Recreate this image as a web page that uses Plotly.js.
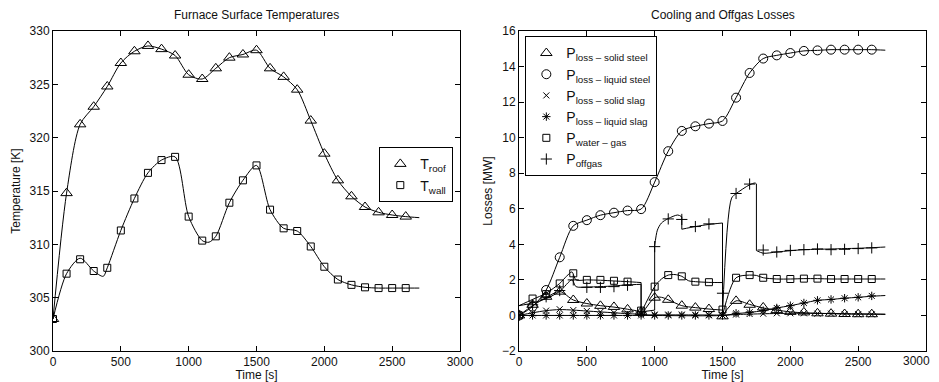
<!DOCTYPE html>
<html>
<head>
<meta charset="utf-8">
<script src="https://cdn.plot.ly/plotly-3.0.1.min.js"></script>
<style>html,body{margin:0;padding:0;background:#fff;overflow:hidden;}#chart{width:939px;height:382px;}</style>
</head>
<body>
<div id="chart"></div>
<script>
// ---- sampled marker times (s) ----
var tMark = [0,100,200,300,400,500,600,700,800,900,1000,1100,1200,1300,1400,1500,1600,1700,1800,1900,2000,2100,2200,2300,2400,2500,2600];

// ---- left panel: furnace surface temperatures (K) ----
var roofMark = [303.0,314.8,321.25,322.9,324.8,327.0,328.1,328.6,328.3,327.7,325.9,325.5,326.5,327.5,327.8,328.2,326.5,325.7,324.5,321.6,318.5,316.0,314.5,313.5,313.0,312.75,312.6];
var wallMark = [303.0,307.25,308.6,307.5,307.8,311.3,314.3,316.7,317.9,318.2,312.6,310.35,310.75,313.9,316.0,317.4,313.25,311.5,311.25,309.8,307.9,306.7,306.2,305.97,305.9,305.9,305.9];

var roofLineT = [0,100,200,300,400,500,600,700,800,900,1000,1100,1200,1300,1400,1500,1600,1700,1800,1900,2000,2100,2200,2300,2400,2500,2600,2700];
var roofLine  = [303.0,314.8,321.25,322.9,324.8,327.0,328.1,328.6,328.3,327.7,325.9,325.5,326.5,327.5,327.8,328.2,326.5,325.7,324.5,321.6,318.5,316.0,314.5,313.5,313.0,312.75,312.6,312.5];
var wallLineT = [0,100,200,300,370,400,500,600,700,800,900,1000,1100,1150,1200,1300,1400,1500,1600,1700,1800,1900,2000,2100,2200,2300,2400,2500,2600,2700];
var wallLine  = [303.0,307.25,308.7,307.5,307.0,307.8,311.3,314.3,316.7,317.9,318.2,312.6,310.35,310.2,310.75,313.9,316.0,317.4,313.25,311.5,311.25,309.8,307.9,306.7,306.2,305.97,305.9,305.9,305.9,305.9];

// ---- right panel: cooling and offgas losses (MW) ----
var solidSteelMark  = [0,0.6,1.05,1.34,0.87,0.67,0.54,0.48,0.34,0.2,1.0,0.88,0.55,0.44,0.36,-0.05,0.82,0.6,0.45,0.3,0.2,0.17,0.12,0.1,0.08,0.07,0.07];
var liquidSteelMark = [0,0.5,1.43,3.27,5.04,5.36,5.64,5.78,5.9,5.98,7.5,9.24,10.38,10.64,10.79,10.94,12.25,13.64,14.45,14.63,14.76,14.88,14.91,14.95,14.95,14.95,14.95];
var solidSlagMark   = [0,0.12,0.27,0.35,0.3,0.25,0.2,0.15,0.12,0.08,0.05,0.05,0.05,0.04,0.03,0.0,0.05,0.08,0.1,0.12,0.12,0.12,0.1,0.1,0.08,0.07,0.06];
var liquidSlagMark  = [0,0,0,0,0,0,0,0,0,0,0,0,0,0,0,0,0.12,0.18,0.27,0.42,0.55,0.7,0.85,0.9,0.97,1.02,1.1];
var waterGasMark    = [0,0.95,1.2,1.8,2.37,2.0,2.0,1.95,1.9,0.27,1.62,2.27,2.2,1.9,1.87,0.33,2.12,2.27,2.12,2.05,2.05,2.07,2.07,2.05,2.05,2.05,2.05];
var offgasMark      = [0,0.6,1.05,1.4,2.0,1.58,1.58,1.62,1.7,0.2,3.87,5.43,5.4,5.0,5.15,1.25,6.86,7.39,3.68,3.57,3.66,3.7,3.74,3.7,3.72,3.76,3.8];

// continuous curves (repeated time = vertical jump)
var solidSteelLineT  = [0,100,200,300,400,500,600,700,800,900,900,1000,1050,1100,1200,1300,1400,1500,1500,1600,1700,1800,1900,2000,2100,2200,2300,2400,2500,2600,2700];
var solidSteelLine   = [0,0.55,1.0,1.35,0.87,0.67,0.55,0.47,0.35,0.22,0.0,1.0,1.02,0.88,0.55,0.44,0.36,0.3,0.0,0.82,0.62,0.42,0.3,0.2,0.15,0.12,0.1,0.08,0.07,0.07,0.06];
var liquidSteelLineT = [0,100,200,300,400,500,600,700,800,900,1000,1100,1200,1300,1400,1500,1600,1700,1800,1900,2000,2100,2200,2300,2400,2500,2600,2700];
var liquidSteelLine  = [0,0.5,1.43,3.27,5.04,5.36,5.64,5.78,5.9,5.98,7.5,9.24,10.38,10.64,10.79,10.94,12.25,13.64,14.45,14.63,14.76,14.88,14.91,14.95,14.95,14.95,14.95,14.92];
var solidSlagLineT   = [0,100,200,300,400,500,600,700,800,900,900,1200,1500,1500,1600,2000,2400,2700];
var solidSlagLine    = [0,0.15,0.27,0.33,0.3,0.25,0.2,0.15,0.1,0.07,0.03,0.03,0.02,0.0,0.05,0.12,0.1,0.07];
var liquidSlagLineT  = [0,900,1500,1600,1700,1800,1900,2000,2100,2200,2300,2400,2500,2600,2700];
var liquidSlagLine   = [0,0,0,0.1,0.17,0.27,0.42,0.55,0.7,0.85,0.9,0.97,1.02,1.08,1.12];
var waterGasLineT    = [0,100,200,300,350,390,420,500,600,700,800,900,900,1000,1050,1100,1150,1200,1250,1300,1400,1500,1500,1600,1700,1750,1800,1900,2000,2100,2200,2300,2400,2500,2600,2700];
var waterGasLine     = [0.55,0.9,1.25,1.8,2.2,2.45,2.0,2.0,1.98,1.94,1.9,1.85,0.15,1.62,2.05,2.27,2.3,2.2,1.95,1.9,1.86,1.85,0.0,2.12,2.27,2.25,2.12,2.05,2.05,2.07,2.07,2.05,2.05,2.05,2.05,2.05];
var offgasLineT      = [0,100,200,300,390,420,500,600,700,800,900,900,1000,1000,1020,1050,1100,1170,1200,1200,1300,1400,1500,1500,1567,1600,1700,1740,1750,1750,1800,1900,2000,2100,2200,2300,2400,2500,2600,2700];
var offgasLine       = [0.55,0.7,0.95,1.35,2.0,1.62,1.6,1.62,1.66,1.72,1.75,0.2,0.3,3.9,4.8,5.2,5.45,5.65,5.55,4.85,5.0,5.12,5.2,0.05,6.6,6.85,7.35,7.45,7.4,3.65,3.5,3.57,3.64,3.7,3.72,3.74,3.76,3.78,3.81,3.85];

var seriesNames = ['P<sub>loss – solid steel</sub>','P<sub>loss – liquid steel</sub>','P<sub>loss – solid slag</sub>','P<sub>loss – liquid slag</sub>','P<sub>water – gas</sub>','P<sub>offgas</sub>'];
var tempNames = ['T<sub>roof</sub>','T<sub>wall</sub>'];
var xTickVals = [0,500,1000,1500,2000,2500,3000];
var xTickText = ['0','500','1000','1500','2000','2500','3000'];

var BLK = '#000';
// split a curve at repeated times: smooth pieces + straight vertical jumps
function lineTraces(T, V, xa, ya) {
  var out = [], px = [T[0]], py = [V[0]];
  function flush() {
    if (px.length > 1) out.push({x: px, y: py, xaxis: xa, yaxis: ya, mode: 'lines', type: 'scatter',
      line: {color: BLK, width: 1, shape: 'spline', smoothing: 0.8}, showlegend: false, hoverinfo: 'skip'});
  }
  for (var i = 1; i < T.length; i++) {
    if (T[i] === T[i - 1]) {
      flush();
      out.push({x: [T[i - 1], T[i]], y: [V[i - 1], V[i]], xaxis: xa, yaxis: ya, mode: 'lines', type: 'scatter',
        line: {color: BLK, width: 1}, showlegend: false, hoverinfo: 'skip'});
      px = [T[i]]; py = [V[i]];
    } else { px.push(T[i]); py.push(V[i]); }
  }
  flush();
  return out;
}
function markTr(x, y, xa, ya, sym, size, name, leg) {
  return {x: x, y: y, xaxis: xa, yaxis: ya, mode: 'markers', type: 'scatter', name: name,
          marker: {symbol: sym, size: size, color: BLK, line: {color: BLK, width: 1}},
          showlegend: true, legend: leg};
}

var data = [].concat(
  lineTraces(roofLineT, roofLine, 'x', 'y'),
  lineTraces(wallLineT, wallLine, 'x', 'y'),
  lineTraces(solidSteelLineT, solidSteelLine, 'x2', 'y2'),
  lineTraces(liquidSteelLineT, liquidSteelLine, 'x2', 'y2'),
  lineTraces(solidSlagLineT, solidSlagLine, 'x2', 'y2'),
  lineTraces(liquidSlagLineT, liquidSlagLine, 'x2', 'y2'),
  lineTraces(waterGasLineT, waterGasLine, 'x2', 'y2'),
  lineTraces(offgasLineT, offgasLine, 'x2', 'y2'),
  [
    markTr(tMark, roofMark, 'x', 'y', 'triangle-up-open', 10, tempNames[0], 'legend'),
    markTr(tMark, wallMark, 'x', 'y', 'square-open', 7, tempNames[1], 'legend'),
    markTr(tMark, solidSteelMark, 'x2', 'y2', 'triangle-up-open', 10, seriesNames[0], 'legend2'),
    markTr(tMark, liquidSteelMark, 'x2', 'y2', 'circle-open', 9, seriesNames[1], 'legend2'),
    markTr(tMark, solidSlagMark, 'x2', 'y2', 'x-thin-open', 6, seriesNames[2], 'legend2'),
    markTr(tMark, liquidSlagMark, 'x2', 'y2', 'asterisk-open', 7, seriesNames[3], 'legend2'),
    markTr(tMark, waterGasMark, 'x2', 'y2', 'square-open', 7, seriesNames[4], 'legend2'),
    markTr(tMark, offgasMark, 'x2', 'y2', 'cross-thin-open', 8, seriesNames[5], 'legend2')
  ]
);

var FONT = 'Liberation Sans, Arial, Helvetica, sans-serif';
var TXT = {family: FONT, size: 12, color: '#111'};
function ax(extra) {
  var a = {showline: true, linecolor: BLK, linewidth: 1, mirror: 'allticks', ticks: 'inside',
           ticklen: 5, tickcolor: BLK, showgrid: false, zeroline: false,
           tickfont: {family: FONT, size: 12, color: '#111'}};
  for (var k in extra) a[k] = extra[k];
  return a;
}

// right-hand axis: last label sits at the page edge, so it is placed as an annotation at x2 = 3000
var x2TickText = xTickText.slice(0, -1).concat(['']);

var layout = {
  width: 939, height: 382,
  margin: {l: 53, r: 13, t: 31, b: 31},
  paper_bgcolor: '#fff', plot_bgcolor: '#fff',
  font: TXT,
  xaxis: ax({domain: [0, 0.4662], range: [0, 3000], tickmode: 'array', tickvals: xTickVals, ticktext: xTickText,
             title: {text: 'Time [s]', font: TXT, standoff: 4}}),
  yaxis: ax({range: [300, 330], dtick: 5, tick0: 300,
             title: {text: 'Temperature [K]', font: TXT, standoff: 6}}),
  xaxis2: ax({domain: [0.5338, 1], anchor: 'y2', range: [0, 3000], tickmode: 'array', tickvals: xTickVals, ticktext: x2TickText,
              title: {text: 'Time [s]', font: TXT, standoff: 4}}),
  yaxis2: ax({anchor: 'x2', range: [-2, 16], dtick: 2, tick0: -2,
              title: {text: 'Losses [MW]', font: TXT, standoff: 6}}),
  legend: {x: 0.4582, xanchor: 'right', y: 0.6375, yanchor: 'top', bgcolor: '#fff',
           bordercolor: BLK, borderwidth: 1.3, font: {family: FONT, size: 14, color: '#111'},
           tracegroupgap: 0, itemwidth: 30},
  legend2: {x: 0.5407, xanchor: 'left', y: 0.984, yanchor: 'top', bgcolor: '#fff',
            bordercolor: BLK, borderwidth: 1.3, font: {family: FONT, size: 14, color: '#111'},
            tracegroupgap: 0, itemwidth: 30},
  annotations: [
    {text: 'Furnace Surface Temperatures', xref: 'x domain', yref: 'paper', x: 0.5, y: 1, yshift: 7,
     xanchor: 'center', yanchor: 'bottom', showarrow: false, font: TXT},
    {text: 'Cooling and Offgas Losses', xref: 'x2 domain', yref: 'paper', x: 0.5, y: 1, yshift: 7,
     xanchor: 'center', yanchor: 'bottom', showarrow: false, font: TXT},
    {text: xTickText[xTickText.length - 1], xref: 'x2', yref: 'paper', x: xTickVals[xTickVals.length - 1], y: 0,
     yshift: -2, xshift: 5, xanchor: 'right', yanchor: 'top', showarrow: false, borderpad: 0, font: TXT}
  ]
};

Plotly.newPlot('chart', data, layout, {staticPlot: true, displayModeBar: false});
</script>
</body>
</html>
